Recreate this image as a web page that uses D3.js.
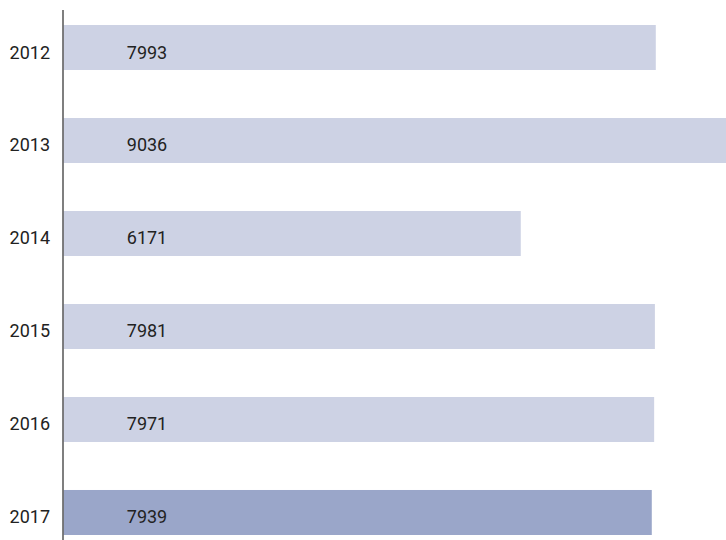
<!DOCTYPE html>
<html>
<head>
<meta charset="utf-8">
<script src="https://cdn.jsdelivr.net/npm/d3@7"></script>
<style>
  body { margin: 0; background: #fff; }
  svg { display: block; font-family: Roboto, sans-serif; }
</style>
</head>
<body>
<div id="chart"></div>
<script>
// data
const years = ["2012", "2013", "2014", "2015", "2016", "2017"];
const values = [7993, 9036, 6171, 7981, 7971, 7939];
const highlightYear = "2017";

const width = 726, height = 540;

const svg = d3.select("#chart")
  .append("svg")
  .attr("width", width)
  .attr("height", height);

// scales
const x = d3.scaleLinear()
  .domain([0, 10000])
  .range([63.5, 804.5]);

const y = d3.scaleBand()
  .domain(years)
  .range([25, 535])
  .paddingInner(0.516)
  .paddingOuter(0);

const rows = years.map((yr, i) => ({ year: yr, value: values[i] }));

// bars
svg.append("g")
  .selectAll("rect")
  .data(rows)
  .join("rect")
    .attr("x", x(0))
    .attr("y", d => y(d.year))
    .attr("width", d => x(d.value) - x(0))
    .attr("height", y.bandwidth())
    .attr("fill", d => d.year === highlightYear ? "#9aa6c9" : "#cdd2e4");

// value labels (baseline sits a bit below the bar middle)
svg.append("g")
  .selectAll("text")
  .data(rows)
  .join("text")
    .attr("x", 147)
    .attr("y", d => y(d.year) + 33.5)
    .attr("text-anchor", "middle")
    .attr("font-size", 18)
    .attr("fill", "#222")
    .text(d => d.value);

// year labels
svg.append("g")
  .selectAll("text")
  .data(years)
  .join("text")
    .attr("x", 50)
    .attr("y", d => y(d) + 33.5)
    .attr("text-anchor", "end")
    .attr("font-size", 18)
    .attr("fill", "#222")
    .text(d => d);

// axis line
svg.append("line")
  .attr("x1", 63).attr("x2", 63)
  .attr("y1", 10).attr("y2", height)
  .attr("stroke", "#555")
  .attr("stroke-width", 1.5);
</script>
</body>
</html>
